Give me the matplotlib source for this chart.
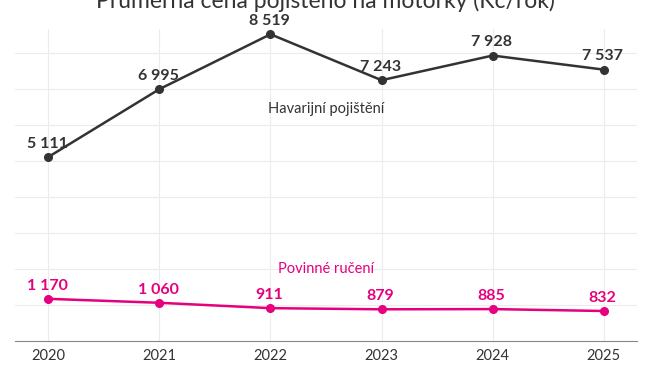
import matplotlib
matplotlib.use("Agg")
import matplotlib.pyplot as plt

years = [2020, 2021, 2022, 2023, 2024, 2025]
havarijni = [5111, 6995, 8519, 7243, 7928, 7537]
povinne = [1170, 1060, 911, 879, 885, 832]

dark = "#333333"
pink = "#e6007e"

plt.rcParams["font.family"] = ["Lato", "DejaVu Sans"]


def fmt(v):
    return f"{v:,}".replace(",", " ")


fig = plt.figure(figsize=(6.54, 3.71), dpi=100)
ax = fig.add_axes([0.023, 0.081, 0.951, 0.841])

ax.plot(years, havarijni, color=dark, lw=1.8, marker="o", ms=5.5, clip_on=False, zorder=3)
ax.plot(years, povinne, color=pink, lw=1.8, marker="o", ms=5.5, clip_on=False, zorder=3)

for x, y in zip(years, havarijni):
    ax.annotate(fmt(y), (x, y), xytext=(-1, 4.5), textcoords="offset points",
                ha="center", va="bottom", fontsize=11.5, fontweight="bold", color=dark)
for x, y in zip(years, povinne):
    ax.annotate(fmt(y), (x, y), xytext=(-1, 4.5), textcoords="offset points",
                ha="center", va="bottom", fontsize=11.5, fontweight="bold", color=pink)

ax.text(2022.5, 6450, "Havarijní pojištění", ha="center", va="center", fontsize=10.5, color=dark)
ax.text(2022.5, 2000, "Povinné ručení", ha="center", va="center", fontsize=10.5, color=pink)

ax.set_xlim(2019.70, 2025.30)
ax.set_ylim(0, 8667)
ax.set_xticks(years)
ax.set_yticks(range(1000, 9000, 1000))
ax.set_yticklabels([])
ax.tick_params(axis="both", length=0, labelsize=10.5, colors="#333333", pad=6)
ax.grid(True, color="#ececec", lw=0.8)
ax.set_axisbelow(True)
for s in ["top", "right", "left"]:
    ax.spines[s].set_visible(False)
ax.spines["bottom"].set_color("#888888")

fig.text(0.497, 0.978, "Průměrná cena pojištěno na motorky (Kč/rok)", ha="center", va="baseline",
         fontsize=16.5, color="#333333")

fig.savefig("out.png", dpi=100)
